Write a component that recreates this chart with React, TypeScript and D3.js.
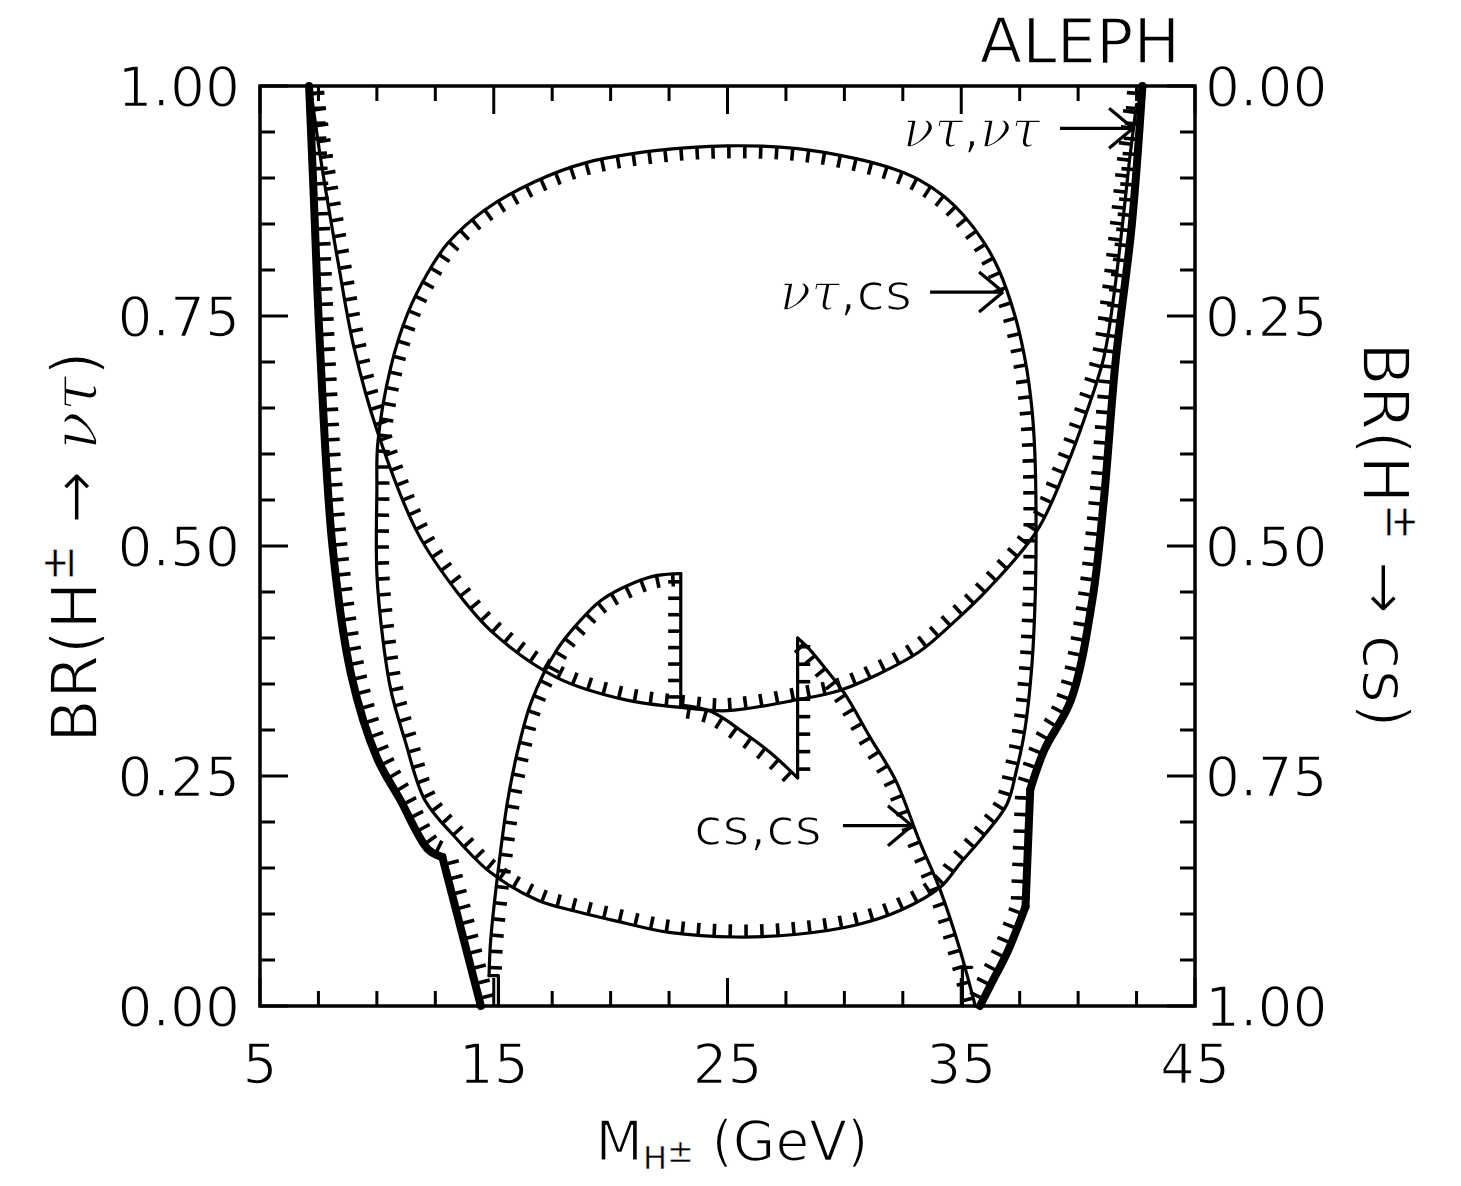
import React, { useRef, useEffect } from "react";
import * as d3 from "d3";

const W = 1461;
const H = 1186;
const plot = { left: 260, right: 1195, top: 86, bottom: 1006 };

// axis ticks
const xMajor = [5, 15, 25, 35, 45];
const xMinor = [7.5, 10, 12.5, 17.5, 20, 22.5, 27.5, 30, 32.5, 37.5, 40, 42.5];
const yMajor = [0, 0.25, 0.5, 0.75, 1];
const yMinor = [0.05, 0.1, 0.15, 0.2, 0.3, 0.35, 0.4, 0.45, 0.55, 0.6, 0.65, 0.7, 0.8, 0.85, 0.9, 0.95];
const leftLabels = ["0.00", "0.25", "0.50", "0.75", "1.00"];
const rightLabels = ["1.00", "0.75", "0.50", "0.25", "0.00"];

// nu tau, nu tau exclusion (thick lines)
const tauTauLeft = [[7.1, 1.0], [7.3, 0.88], [7.56, 0.72], [8.1, 0.5], [8.9, 0.36], [10.0, 0.27], [11.0, 0.224], [12.2, 0.17], [12.8, 0.162]];
const tauTauLeftTail = [[12.8, 0.162], [14.45, 0]];
const tauTauRight = [[42.75, 1.0], [42.3, 0.85], [41.6, 0.7], [41.1, 0.55], [40.6, 0.44], [39.7, 0.333], [38.55, 0.278], [37.95, 0.235]];
const tauTauRightStep = [[37.95, 0.235], [37.75, 0.108]];
const tauTauRightTail = [[37.75, 0.108], [37.0, 0.06], [36.3, 0.025], [35.8, 0]];

// upper U curve
const upperU = [[7.15, 1.0], [7.6, 0.92], [8.33, 0.81], [9.0, 0.718], [10.0, 0.626], [11.75, 0.514], [13.46, 0.449], [15.0, 0.405], [17.7, 0.357], [20.6, 0.333], [23.2, 0.324], [25.0, 0.321], [28.0, 0.333], [29.8, 0.343], [31.4, 0.36], [33.2, 0.385], [34.8, 0.42], [36.1, 0.452], [38.25, 0.517], [39.5, 0.586], [40.4, 0.648], [41.1, 0.705], [41.5, 0.767], [41.9, 0.85], [42.2, 0.92], [42.5, 0.98]];

// nu tau, cs closed contour
const tauCs = [[10.0, 0.56], [10.04, 0.612], [10.6, 0.695], [11.32, 0.753], [12.18, 0.797], [13.03, 0.829], [14.6, 0.865], [16.75, 0.896], [19, 0.917], [22, 0.93], [25, 0.935], [28, 0.932], [30.5, 0.921], [32.2, 0.909], [33.2, 0.898], [34.27, 0.88], [35.08, 0.86], [35.97, 0.83], [36.61, 0.8], [37.3, 0.75], [37.75, 0.7], [38.02, 0.65], [38.15, 0.6], [38.2, 0.53], [38.17, 0.45], [38.02, 0.37], [37.72, 0.3], [37.35, 0.255], [36.95, 0.219], [35.93, 0.184], [34.95, 0.155], [34.1, 0.129], [32.4, 0.104], [30.5, 0.088], [28, 0.078], [25.4, 0.075], [22.5, 0.08], [20.3, 0.092], [18.5, 0.103], [16.88, 0.115], [14.87, 0.145], [13.33, 0.184], [12.05, 0.224], [11.2, 0.289], [10.6, 0.343], [10.26, 0.398], [10.0, 0.47]];

// cs, cs contour pieces
const csLeft = [[14.8, 0.033], [14.87, 0.072], [15.3, 0.17], [15.6, 0.224], [16.03, 0.278], [16.6, 0.33], [17.7, 0.387], [18.6, 0.416], [19.6, 0.441], [21.0, 0.46], [22.0, 0.468], [23.0, 0.47]];
const csDrop = [[23.0, 0.47], [23.0, 0.327]];
const csMid = [[23.0, 0.327], [24.3, 0.32], [25.7, 0.297], [26.85, 0.275], [28.0, 0.248]];
const csRise = [[28.0, 0.248], [28.0, 0.4]];
const csRight = [[28.0, 0.4], [28.5, 0.388], [29.15, 0.368], [30.0, 0.34], [31.1, 0.292], [32.2, 0.245], [33.2, 0.18], [34.1, 0.126], [34.9, 0.065], [35.6, 0]];
const csLeftFoot = [[15.2, 0], [15.2, 0.033], [14.8, 0.033]];
const csRightFoot = [[35.05, 0], [35.05, 0.042], [35.45, 0.042]];

const annotations = [
  { parts: [["ντ", true], [",", false], ["ντ", true]], tip: [42.35, 0.954], shaft: 73, gap: 20, dy: 19 },
  { parts: [["ντ", true], [",cs", false]], tip: [36.79, 0.776], shaft: 73, gap: 18, dy: 18 },
  { parts: [["cs,cs", false]], tip: [32.89, 0.196], shaft: 69, gap: 21, dy: 19 },
];

const FONT = "DejaVu Sans";

// thin the glyph strokes a little to look like the plotter font
const thinText = (sel, w = 1.6) =>
  sel.attr("fill", "#000").attr("stroke", "#fff").attr("stroke-width", w)
    .attr("paint-order", "fill").style("-webkit-font-smoothing", "antialiased");

const App = () => {
  const svgRef = useRef(null);

  useEffect(() => {
    const svg = d3.select(svgRef.current);
    svg.selectAll("*").remove();

    const x = d3.scaleLinear().domain([5, 45]).range([plot.left, plot.right]);
    const y = d3.scaleLinear().domain([0, 1]).range([plot.bottom, plot.top]);

    svg.append("rect").attr("width", W).attr("height", H).attr("fill", "#fff");

    const g = svg.append("g");

    // frame
    g.append("rect")
      .attr("x", plot.left)
      .attr("y", plot.top)
      .attr("width", plot.right - plot.left)
      .attr("height", plot.bottom - plot.top)
      .attr("fill", "none")
      .attr("stroke", "#000")
      .attr("stroke-width", 3.5);

    const tick = (x1, y1, x2, y2) =>
      g.append("line").attr("x1", x1).attr("y1", y1).attr("x2", x2).attr("y2", y2)
        .attr("stroke", "#000").attr("stroke-width", 3);

    xMajor.forEach((v) => {
      tick(x(v), plot.bottom, x(v), plot.bottom - 28);
      tick(x(v), plot.top, x(v), plot.top + 28);
    });
    xMinor.forEach((v) => {
      tick(x(v), plot.bottom, x(v), plot.bottom - 15);
      tick(x(v), plot.top, x(v), plot.top + 15);
    });
    yMajor.forEach((v) => {
      tick(plot.left, y(v), plot.left + 28, y(v));
      tick(plot.right, y(v), plot.right - 28, y(v));
    });
    yMinor.forEach((v) => {
      tick(plot.left, y(v), plot.left + 15, y(v));
      tick(plot.right, y(v), plot.right - 15, y(v));
    });

    // tick labels
    const txt = (s, px, py, anchor, size) =>
      thinText(g.append("text").attr("x", px).attr("y", py).attr("text-anchor", anchor)
        .attr("font-family", FONT).attr("font-size", size)).text(s);

    yMajor.forEach((v, i) => {
      txt(leftLabels[i], plot.left - 20, y(v) + 20, "end", 55);
      txt(rightLabels[i], plot.right + 10, y(v) + 20, "start", 55);
    });
    xMajor.forEach((v) => {
      txt(String(v), x(v), 1083, "middle", 55);
    });

    txt("ALEPH", 1180, 63, "end", 62);

    // x axis title
    const xt = thinText(g.append("text").attr("x", 732).attr("y", 1160).attr("text-anchor", "middle")
      .attr("font-family", FONT).attr("font-size", 55));
    xt.append("tspan").text("M");
    xt.append("tspan").attr("font-size", 32).attr("stroke-width", 0.5).attr("dy", 9).text("H");
    xt.append("tspan").attr("font-size", 32).attr("stroke-width", 0.5).attr("dy", -7).text("±");
    xt.append("tspan").attr("dy", -2).text(" (GeV)");

    // y axis titles
    const yl = thinText(g.append("text").attr("transform", "translate(97,547) rotate(-90)")
      .attr("text-anchor", "middle").attr("font-family", FONT).attr("font-size", 64), 1.8);
    yl.append("tspan").text("BR(H");
    yl.append("tspan").attr("font-size", 44).attr("stroke-width", 0.6).attr("dy", -24).text("±");
    yl.append("tspan").attr("dy", 24).text(" → ");
    yl.append("tspan").attr("font-family", "DejaVu Serif").attr("font-style", "italic").text("ντ");
    yl.append("tspan").text(")");

    const yr = thinText(g.append("text").attr("transform", "translate(1363,535) rotate(90)")
      .attr("text-anchor", "middle").attr("font-family", FONT).attr("font-size", 64), 1.8);
    yr.append("tspan").text("BR(H");
    yr.append("tspan").attr("font-size", 44).attr("stroke-width", 0.6).attr("dy", -24).text("±");
    yr.append("tspan").attr("dy", 24).text(" → cs)");

    // curves with hatching
    const smooth = d3.line().x((d) => x(d[0])).y((d) => y(d[1])).curve(d3.curveCatmullRom.alpha(0.5));
    const closed = d3.line().x((d) => x(d[0])).y((d) => y(d[1])).curve(d3.curveCatmullRomClosed.alpha(0.5));
    const straight = d3.line().x((d) => x(d[0])).y((d) => y(d[1]));

    const curveG = g.append("g");

    const draw = (pts, gen, opts) => {
      const { width, side, spacing, len, hatch } = opts;
      const path = curveG.append("path").attr("d", gen(pts)).attr("fill", "none")
        .attr("stroke", "#000").attr("stroke-width", width).attr("stroke-linejoin", "round")
        .attr("stroke-linecap", "round");
      if (!hatch) return;
      const node = path.node();
      const L = node.getTotalLength();
      const n = Math.max(1, Math.floor(L / spacing));
      const step = L / n;
      for (let i = 0; i < n; i++) {
        const s = (i + 0.5) * step;
        const p = node.getPointAtLength(s);
        const a = node.getPointAtLength(Math.max(0, s - 1));
        const b = node.getPointAtLength(Math.min(L, s + 1));
        let tx = b.x - a.x, ty = b.y - a.y;
        const m = Math.hypot(tx, ty) || 1;
        tx /= m; ty /= m;
        const nx = side * ty, ny = -side * tx;
        curveG.append("line")
          .attr("x1", p.x).attr("y1", p.y)
          .attr("x2", p.x + nx * (len + width / 2)).attr("y2", p.y + ny * (len + width / 2))
          .attr("stroke", "#000").attr("stroke-width", 3.6);
      }
    };

    const thick = { width: 8, spacing: 15, len: 11, hatch: true };
    const thin = { width: 3.2, spacing: 16, len: 11, hatch: true };

    draw(tauTauLeft, smooth, { ...thick, side: 1 });
    draw(tauTauLeftTail, straight, { ...thick, side: 1 });
    draw(tauTauRight, smooth, { ...thick, side: -1 });
    draw(tauTauRightStep, straight, { ...thick, side: -1 });
    draw(tauTauRightTail, smooth, { ...thick, side: -1 });

    draw(upperU, smooth, { ...thin, side: 1 });
    draw(tauCs, closed, { ...thin, side: -1 });

    draw(csLeft, smooth, { ...thin, side: -1 });
    draw(csDrop, straight, { ...thin, side: -1 });
    draw(csMid, smooth, { ...thin, side: -1 });
    draw(csRise, straight, { ...thin, side: -1 });
    draw(csRight, smooth, { ...thin, side: -1 });
    draw(csLeftFoot, straight, { ...thin, hatch: false, side: 1 });
    draw(csRightFoot, straight, { ...thin, hatch: false, side: 1 });

    // annotations with arrows
    annotations.forEach((an) => {
      const tx = x(an.tip[0]);
      const ty = y(an.tip[1]);
      const sx = tx - an.shaft;
      const ag = g.append("g").attr("stroke", "#000").attr("stroke-width", 3.2).attr("fill", "none");
      ag.append("line").attr("x1", sx).attr("y1", ty).attr("x2", tx).attr("y2", ty);
      ag.append("line").attr("x1", tx - 24).attr("y1", ty - 20).attr("x2", tx).attr("y2", ty);
      ag.append("line").attr("x1", tx - 24).attr("y1", ty + 20).attr("x2", tx).attr("y2", ty);
      const t = thinText(g.append("text").attr("x", sx - an.gap).attr("y", ty + an.dy)
        .attr("text-anchor", "end").attr("font-family", FONT).attr("font-size", 52));
      an.parts.forEach(([s, it]) => {
        const sp = t.append("tspan").text(s);
        if (it) sp.attr("font-family", "DejaVu Serif").attr("font-style", "italic");
      });
    });
  }, []);

  return (
    <svg
      ref={svgRef}
      width={W}
      height={H}
      style={{ position: "absolute", left: 0, top: 0, display: "block" }}
    />
  );
};

export default App;
